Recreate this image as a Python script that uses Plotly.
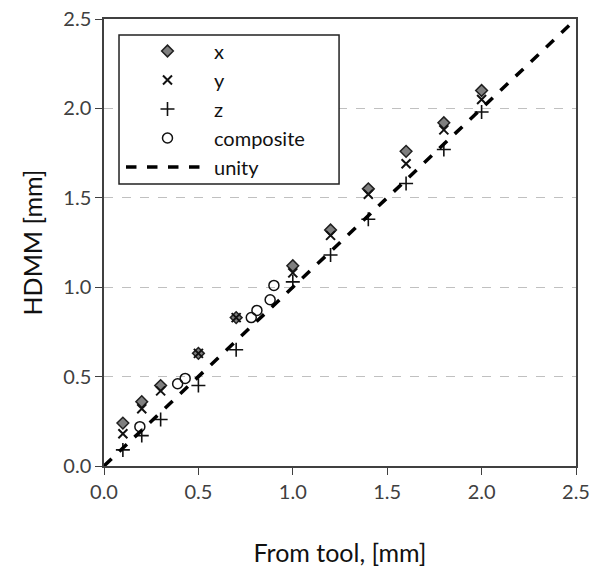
import plotly.graph_objects as go

# Data
x_vals = [0.1, 0.2, 0.3, 0.5, 0.7, 1.0, 1.2, 1.4, 1.6, 1.8, 2.0]
x_series = [0.24, 0.36, 0.45, 0.63, 0.83, 1.12, 1.32, 1.55, 1.76, 1.92, 2.10]
y_series = [0.18, 0.32, 0.42, 0.63, 0.83, 1.08, 1.29, 1.52, 1.69, 1.88, 2.05]
z_series = [0.09, 0.17, 0.26, 0.45, 0.65, 1.03, 1.18, 1.38, 1.58, 1.77, 1.98]
comp_x = [0.19, 0.39, 0.43, 0.78, 0.81, 0.88, 0.90]
comp_y = [0.22, 0.46, 0.49, 0.83, 0.87, 0.93, 1.01]
unity_x = [0.0, 2.5]
unity_y = [0.0, 2.5]
ticks = [0.0, 0.5, 1.0, 1.5, 2.0, 2.5]

FONT = "Lato"
TXT = "#404040"

fig = go.Figure()
fig.add_trace(go.Scatter(x=x_vals, y=x_series, mode="markers", name="x", legendgroup="a",
                         marker=dict(symbol="diamond", size=9, color="#7f7f7f",
                                     line=dict(color="#202020", width=1.5))))
fig.add_trace(go.Scatter(x=x_vals, y=y_series, mode="markers", name="y", legendgroup="b",
                         marker=dict(symbol="x-thin-open", size=9, color="#111111",
                                     line=dict(color="#111111", width=2))))
fig.add_trace(go.Scatter(x=x_vals, y=z_series, mode="markers", name="z", legendgroup="c",
                         marker=dict(symbol="cross-thin-open", size=10, color="#111111",
                                     line=dict(color="#111111", width=1.6))))
fig.add_trace(go.Scatter(x=comp_x, y=comp_y, mode="markers", name="composite", legendgroup="d",
                         marker=dict(symbol="circle-open", size=10, color="#111111",
                                     line=dict(color="#111111", width=1.5))))
fig.add_trace(go.Scatter(x=unity_x, y=unity_y, mode="lines", name="unity", legendgroup="e",
                         line=dict(color="#000000", width=3.5, dash="dash")))

fig.update_layout(
    width=595, height=567,
    margin=dict(l=104, r=19, t=19, b=101),
    plot_bgcolor="white", paper_bgcolor="white",
    font=dict(family=FONT, color=TXT, size=20),
    showlegend=True,
    legend=dict(x=0.036, y=0.972, xanchor="left", yanchor="top",
                borderwidth=0, bgcolor="rgba(255,255,255,0)",
                font=dict(size=20, color="#111111", family=FONT),
                tracegroupgap=0, itemwidth=83),
    shapes=[dict(type="rect", xref="paper", yref="paper",
                 x0=0.0318, x1=0.498, y0=0.631, y1=0.964,
                 line=dict(color="#222222", width=1.5), fillcolor="white", layer="above")],
)
fig.update_xaxes(range=[0, 2.5], tickvals=ticks, tickformat=".1f",
                 showgrid=False, zeroline=False, automargin=False,
                 showline=True, linecolor="#404040", linewidth=1.5, mirror=True,
                 ticks="outside", ticklen=7, tickcolor="#404040",
                 tickfont=dict(size=20, color=TXT),
                 title=dict(text="From tool, [mm]", font=dict(size=25, color="#111111"), standoff=44))
fig.update_yaxes(range=[0, 2.5], tickvals=ticks, tickformat=".1f",
                 showgrid=True, gridcolor="#c0c0c0", griddash="dash", gridwidth=1,
                 zeroline=False, automargin=False,
                 showline=True, linecolor="#404040", linewidth=1.5, mirror=True,
                 ticks="outside", ticklen=7, tickcolor="#404040",
                 tickfont=dict(size=20, color=TXT),
                 title=dict(text="HDMM [mm]", font=dict(size=25, color="#111111"), standoff=14))

fig.write_html("out.html")
